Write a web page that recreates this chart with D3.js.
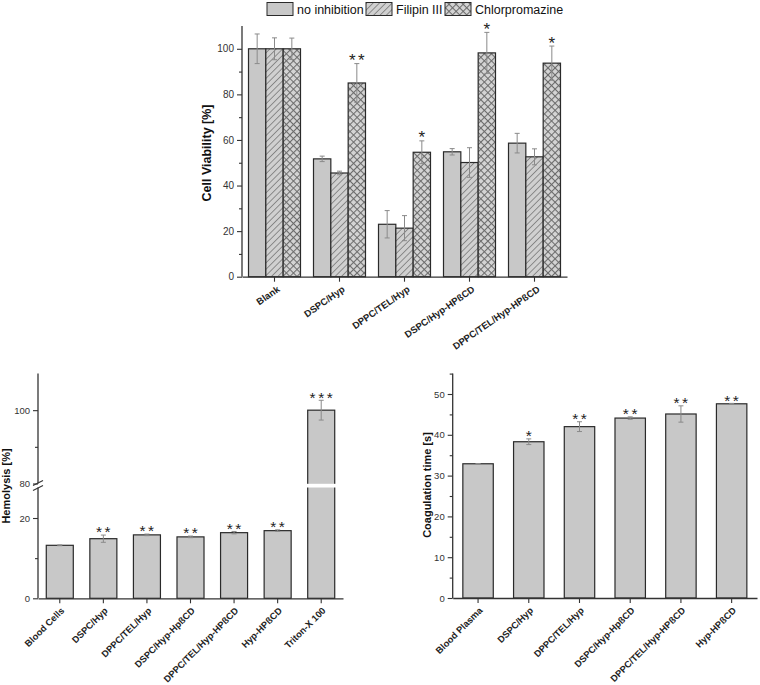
<!DOCTYPE html>
<html><head><meta charset="utf-8">
<script src="https://cdn.jsdelivr.net/npm/d3@7"></script>
<style>body{margin:0;background:#fff} text{font-family:Arial,"Liberation Sans",sans-serif}</style>
</head><body><svg id="c" width="760" height="685"></svg>
<script>
// ---------- data ----------
const viabCategories = ["Blank","DSPC/Hyp","DPPC/TEL/Hyp","DSPC/Hyp-HPßCD","DPPC/TEL/Hyp-HPßCD"];
const viabSeries = ["no inhibition","Filipin III","Chlorpromazine"];
const viabNoInh = [100, 51.7, 23.0, 54.8, 58.6];
const viabNoInhErr = [6.5, 1.2, 6.0, 1.4, 4.3];
const viabFilipin = [100, 45.5, 21.3, 50.1, 52.6];
const viabFilipinErr = [4.8, 0.8, 5.5, 6.5, 3.5];
const viabChlor = [100, 85.0, 54.6, 98.2, 93.7];
const viabChlorErr = [4.7, 8.5, 5.0, 9.0, 7.5];
const viabSig = ["", "**", "*", "*", "*"];
const viabTicks = [0, 20, 40, 60, 80, 100];

const hemoCategories = ["Blood Cells","DSPC/Hyp","DPPC/TEL/Hyp","DSPC/Hyp-HpßCD","DPPC/TEL/Hyp-HPßCD","Hyp-HPßCD","Triton-X 100"];
const hemoValues = [13.2, 14.85, 15.8, 15.3, 16.35, 16.85, 100];
const hemoErr = [0.1, 0.9, 0.2, 0.2, 0.3, 0.2, 2.7];
const hemoSig = ["", "**", "**", "**", "**", "**", "***"];
const hemoTicksLow = [0, 20];
const hemoTicksHigh = [80, 100];

const coagCategories = ["Blood Plasma","DSPC/Hyp","DPPC/TEL/Hyp","DSPC/Hyp-HpßCD","DPPC/TEL/Hyp-HPßCD","Hyp-HPßCD"];
const coagValues = [32.9, 38.3, 42.0, 44.1, 45.1, 47.6];
const coagErr = [0.05, 0.7, 1.2, 0.3, 2.0, 0.1];
const coagSig = ["", "*", "**", "**", "**", "**"];
const coagTicks = [0, 10, 20, 30, 40, 50];

// ---------- styles ----------
const AX = "#333", BAR = "#c8c8c8", ERR = "#8a8a8a";
const svg = d3.select("#c");
const defs = svg.append("defs");
const p1 = defs.append("pattern").attr("id","hatch").attr("patternUnits","userSpaceOnUse")
  .attr("width",4.5).attr("height",4.5).attr("patternTransform","rotate(45)");
p1.append("rect").attr("width",4.5).attr("height",4.5).attr("fill","#d0d0d0");
p1.append("line").attr("x1",0).attr("y1",0).attr("x2",0).attr("y2",4.5).attr("stroke","#7a7a7a").attr("stroke-width",1.6);
const p2 = defs.append("pattern").attr("id","cross").attr("patternUnits","userSpaceOnUse")
  .attr("width",5).attr("height",5).attr("patternTransform","rotate(45)");
p2.append("rect").attr("width",5).attr("height",5).attr("fill","#d4d4d4");
p2.append("line").attr("x1",0).attr("y1",0).attr("x2",0).attr("y2",5).attr("stroke","#6c6c6c").attr("stroke-width",2.1);
p2.append("line").attr("x1",0).attr("y1",0).attr("x2",5).attr("y2",0).attr("stroke","#6c6c6c").attr("stroke-width",2.1);
const fills = ["" + BAR, "url(#hatch)", "url(#cross)"];

function yAxis(g, scale, major, minor, fs) {
  const ax = d3.axisLeft(scale).tickValues(major).tickSize(5).tickPadding(3).tickFormat(d3.format("d"));
  const ga = g.append("g").call(ax);
  ga.select(".domain").attr("stroke", AX).attr("stroke-width", 1.3);
  ga.selectAll(".tick line").attr("stroke", AX).attr("stroke-width", 1.1);
  ga.selectAll(".tick text").attr("fill", AX).attr("font-size", fs).attr("font-family", "Arial,'Liberation Sans',sans-serif");
  const gm = g.append("g").call(d3.axisLeft(scale).tickValues(minor).tickSize(3).tickFormat(""));
  gm.select(".domain").remove();
  gm.selectAll(".tick line").attr("stroke", AX).attr("stroke-width", 1.1);
  return ga;
}
function xAxis(g, scale, y, angle, fs, dx, dy) {
  const ga = g.append("g").attr("transform", `translate(0,${y})`)
    .call(d3.axisBottom(scale).tickSize(5).tickSizeOuter(0));
  ga.select(".domain").attr("stroke", AX).attr("stroke-width", 1.3);
  ga.selectAll(".tick line").attr("stroke", AX).attr("stroke-width", 1.1);
  ga.selectAll(".tick text").attr("fill", "#222").attr("font-size", fs).attr("font-weight", "bold")
    .attr("font-family", "Arial,'Liberation Sans',sans-serif")
    .attr("text-anchor", "end").attr("y", 0).attr("dy", 0)
    .attr("transform", `translate(${dx},${dy}) rotate(${-angle})`);
  return ga;
}
function yTitle(g, text, x, y, fs) {
  g.append("text").attr("transform", `translate(${x},${y}) rotate(-90)`).attr("text-anchor", "middle")
    .attr("font-size", fs).attr("font-weight", "bold").attr("fill", "#111").text(text);
}
function errBar(g, cx, yTop, yBot, cap) {
  g.append("line").attr("x1", cx).attr("x2", cx).attr("y1", yTop).attr("y2", yBot).attr("stroke", ERR).attr("stroke-width", 1);
  [yTop, yBot].forEach(yy => g.append("line").attr("x1", cx - cap).attr("x2", cx + cap).attr("y1", yy).attr("y2", yy).attr("stroke", ERR).attr("stroke-width", 1));
}
function star(g, cx, errTop, s, fs) {
  if (!s) return;
  g.append("text").attr("x", cx + 1.2).attr("y", errTop + fs * 0.15).attr("text-anchor", "middle")
    .attr("font-size", fs).attr("fill", "#222").attr("letter-spacing", "2.5px").text(s);
}

// ---------- chart 1: cell viability ----------
{
  const g = svg.append("g");
  const x0 = d3.scaleBand().domain(viabCategories).range([242, 567]).padding(0);
  const x1 = d3.scaleBand().domain(viabSeries).range([x0.bandwidth() * 0.1, x0.bandwidth() * 0.9]).padding(0);
  const y = d3.scaleLinear().domain([0, 110]).range([276.7, 26]);
  const vals = [viabNoInh, viabFilipin, viabChlor];
  const errs = [viabNoInhErr, viabFilipinErr, viabChlorErr];
  viabCategories.forEach((c, i) => {
    viabSeries.forEach((s, j) => {
      g.append("rect").attr("x", x0(c) + x1(s)).attr("y", y(vals[j][i])).attr("width", x1.bandwidth())
        .attr("height", y(0) - y(vals[j][i])).attr("fill", fills[j]).attr("stroke", "#2a2a2a").attr("stroke-width", 1.2);
    });
  });
  viabCategories.forEach((c, i) => {
    viabSeries.forEach((s, j) => {
      const cx = x0(c) + x1(s) + x1.bandwidth() / 2;
      errBar(g, cx, y(vals[j][i] + errs[j][i]), y(vals[j][i] - errs[j][i]), 2.5);
    });
    const cx = x0(c) + x1("Chlorpromazine") + x1.bandwidth() / 2;
    star(g, cx, y(viabChlor[i] + viabChlorErr[i]), viabSig[i], 17);
  });
  const ga = yAxis(g.append("g").attr("transform", "translate(242,0)"), y, viabTicks, [10, 30, 50, 70, 90], 10);
  ga.select(".domain").attr("d", `M0,${y(0)}V${y(110)}`);
  xAxis(g, x0, 276.7, 35, 9.5, 6, 14);
  yTitle(g, "Cell Viability [%]", 211, 153, 12.5);
  // legend
  const lx = [267, 366, 445];
  viabSeries.forEach((s, j) => {
    g.append("rect").attr("x", lx[j]).attr("y", 2.5).attr("width", 26).attr("height", 13).attr("fill", fills[j])
      .attr("stroke", "#2a2a2a").attr("stroke-width", 1);
    g.append("text").attr("x", lx[j] + 30).attr("y", 14).attr("font-size", 12.5).attr("fill", "#111").text(s);
  });
}

// ---------- chart 2: hemolysis (broken axis) ----------
{
  const g = svg.append("g");
  const x = d3.scaleBand().domain(hemoCategories).range([38, 343]).paddingInner(0.38).paddingOuter(0.19);
  const yLo = d3.scaleLinear().domain([0, 27.6]).range([598.3, 487.5]);
  const yHi = d3.scaleLinear().domain([80, 110]).range([483.5, 373.5]);
  const yv = v => v <= 27.6 ? yLo(v) : yHi(v);
  hemoCategories.forEach((c, i) => {
    const v = hemoValues[i];
    g.append("rect").attr("x", x(c)).attr("y", yv(v)).attr("width", x.bandwidth()).attr("height", yLo(0) - yv(v))
      .attr("fill", BAR).attr("stroke", "#2a2a2a").attr("stroke-width", 1.2);
    if (v > 27.6) {
      g.append("rect").attr("x", x(c) - 1.5).attr("y", yHi(80) + 0.3).attr("width", x.bandwidth() + 3).attr("height", yLo(27.6) - yHi(80) - 0.3)
        .attr("fill", "#fff");
    }
    const cx = x(c) + x.bandwidth() / 2;
    errBar(g, cx, yv(v + hemoErr[i]), yv(v - hemoErr[i]), 2.5);
    star(g, cx, yv(v + hemoErr[i]), hemoSig[i], 15.5);
  });
  const lo = yAxis(g.append("g").attr("transform", "translate(38,0)"), yLo, hemoTicksLow, [10], 9.5);
  lo.select(".domain").attr("d", `M0,${yLo(0)}V${yLo(27.6)}`);
  const hi = yAxis(g.append("g").attr("transform", "translate(38,0)"), yHi, hemoTicksHigh, [90], 9.5);
  hi.select(".domain").attr("d", `M0,${yHi(80)}V${yHi(110)}`);
  [yHi(80) - 0.5, yLo(27.6) + 0.5].forEach(yy => g.append("line").attr("x1", 33).attr("x2", 43)
    .attr("y1", yy + 2.5).attr("y2", yy - 2.5).attr("stroke", AX).attr("stroke-width", 1.1));
  xAxis(g, x, 598.3, 45, 9.3, 5, 13);
  yTitle(g, "Hemolysis [%]", 10, 486, 11);
}

// ---------- chart 3: coagulation ----------
{
  const g = svg.append("g");
  const x = d3.scaleBand().domain(coagCategories).range([452.7, 757]).paddingInner(0.4).paddingOuter(0.2);
  const y = d3.scaleLinear().domain([0, 55]).range([598, 373.6]);
  coagCategories.forEach((c, i) => {
    const v = coagValues[i];
    g.append("rect").attr("x", x(c)).attr("y", y(v)).attr("width", x.bandwidth()).attr("height", y(0) - y(v))
      .attr("fill", BAR).attr("stroke", "#2a2a2a").attr("stroke-width", 1.2);
    const cx = x(c) + x.bandwidth() / 2;
    errBar(g, cx, y(v + coagErr[i]), y(v - coagErr[i]), 2.5);
    star(g, cx, y(v + coagErr[i]), coagSig[i], 15.5);
  });
  const ga = yAxis(g.append("g").attr("transform", "translate(452.7,0)"), y, coagTicks, [5, 15, 25, 35, 45, 55], 9.5);
  ga.select(".domain").attr("d", `M0,${y(0)}V${y(55)}`);
  xAxis(g, x, 598, 45, 9.3, 5, 13);
  yTitle(g, "Coagulation time [s]", 431, 485, 11);
}
</script></body></html>
